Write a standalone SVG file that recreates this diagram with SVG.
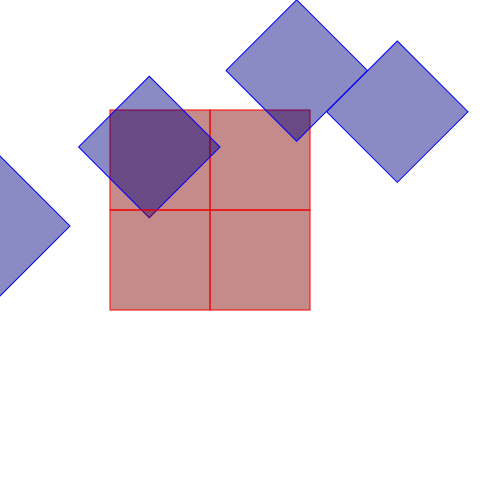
<svg xmlns="http://www.w3.org/2000/svg" width="500" height="500" viewBox="0 0 500 500">
<style>
.d{fill:#000080;fill-opacity:0.46;stroke:#0000ff;stroke-width:1}
.c{fill:#800000;fill-opacity:0.46;stroke:#ff0000;stroke-width:1}
</style>
<rect width="500" height="500" fill="#ffffff"/>
<g id="cells-top">
<rect class="c" x="110" y="110" width="100" height="100"/>
<rect class="c" x="210" y="110" width="100" height="100"/>
</g>
<g id="diamonds">
<rect class="d" x="-50" y="-50" width="100" height="100" transform="translate(-0.7,226) rotate(45)"/>
<rect class="d" x="-50" y="-50" width="100" height="100" transform="translate(149.3,147) rotate(45)"/>
<rect class="d" x="-50" y="-50" width="100" height="100" transform="translate(296.7,70.5) rotate(45)"/>
<rect class="d" x="-50" y="-50" width="100" height="100" transform="translate(397.3,111.7) rotate(45)"/>
</g>
<g id="cells-bottom">
<rect class="c" x="110" y="210" width="100" height="100"/>
<rect class="c" x="210" y="210" width="100" height="100"/>
</g>
</svg>
